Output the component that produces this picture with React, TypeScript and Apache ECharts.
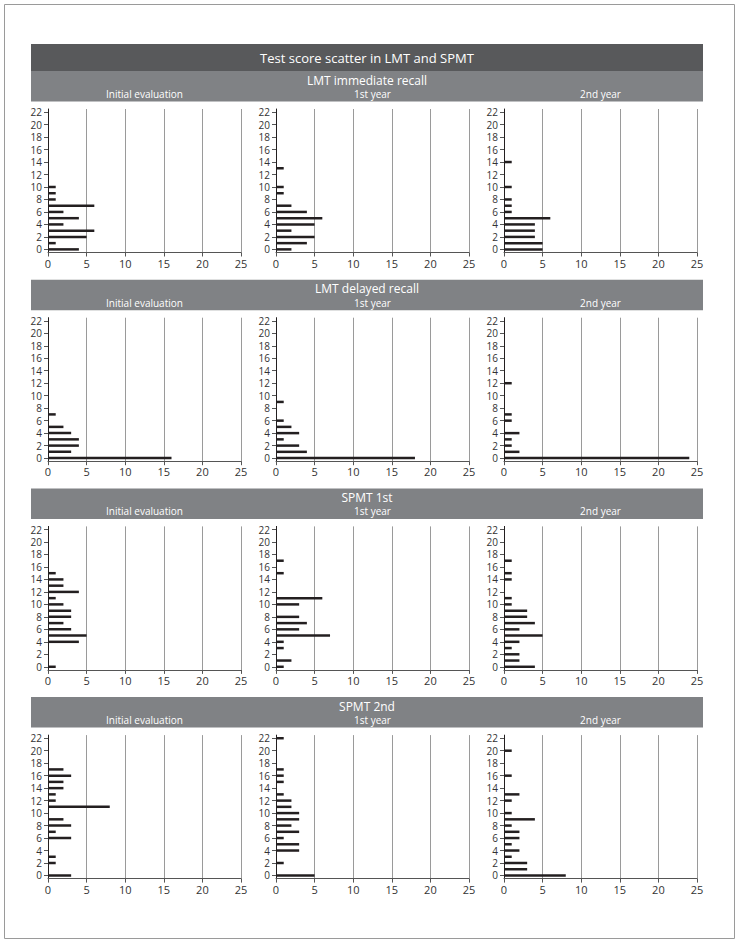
import React, { useEffect, useRef } from "react";
import * as echarts from "echarts";

const scores = Array.from({ length: 23 }, (_, i) => String(i));
const sectionTitles = ["LMT immediate recall", "LMT delayed recall", "SPMT 1st", "SPMT 2nd"];
const panelTitles = ["Initial evaluation", "1st year", "2nd year"];

// counts per score 0..22
const lmtImmInitial = [4, 1, 5, 6, 2, 4, 2, 6, 1, 1, 1, 0, 0, 0, 0, 0, 0, 0, 0, 0, 0, 0, 0];
const lmtImmYear1 = [2, 4, 5, 2, 5, 6, 4, 2, 0, 1, 1, 0, 0, 1, 0, 0, 0, 0, 0, 0, 0, 0, 0];
const lmtImmYear2 = [5, 5, 4, 4, 4, 6, 1, 1, 1, 0, 1, 0, 0, 0, 1, 0, 0, 0, 0, 0, 0, 0, 0];
const lmtDelInitial = [16, 3, 4, 4, 3, 2, 0, 1, 0, 0, 0, 0, 0, 0, 0, 0, 0, 0, 0, 0, 0, 0, 0];
const lmtDelYear1 = [18, 4, 3, 1, 3, 2, 1, 0, 0, 1, 0, 0, 0, 0, 0, 0, 0, 0, 0, 0, 0, 0, 0];
const lmtDelYear2 = [24, 2, 1, 1, 2, 0, 1, 1, 0, 0, 0, 0, 1, 0, 0, 0, 0, 0, 0, 0, 0, 0, 0];
const spmt1Initial = [1, 0, 0, 0, 4, 5, 3, 2, 3, 3, 2, 1, 4, 2, 2, 1, 0, 0, 0, 0, 0, 0, 0];
const spmt1Year1 = [1, 2, 0, 1, 1, 7, 3, 4, 3, 0, 3, 6, 0, 0, 0, 1, 0, 1, 0, 0, 0, 0, 0];
const spmt1Year2 = [4, 2, 2, 1, 2, 5, 2, 4, 3, 3, 1, 1, 0, 0, 1, 1, 0, 1, 0, 0, 0, 0, 0];
const spmt2Initial = [3, 0, 1, 1, 0, 0, 3, 1, 3, 2, 0, 8, 1, 1, 2, 2, 3, 2, 0, 0, 0, 0, 0];
const spmt2Year1 = [5, 0, 1, 0, 3, 3, 1, 3, 2, 3, 3, 2, 2, 1, 0, 1, 1, 1, 0, 0, 0, 0, 1];
const spmt2Year2 = [8, 3, 3, 1, 2, 1, 2, 2, 1, 4, 1, 0, 1, 2, 0, 0, 1, 0, 0, 0, 1, 0, 0];

const panels = [
  [lmtImmInitial, lmtImmYear1, lmtImmYear2],
  [lmtDelInitial, lmtDelYear1, lmtDelYear2],
  [spmt1Initial, spmt1Year1, spmt1Year2],
  [spmt2Initial, spmt2Year1, spmt2Year2],
];

const FONT = "'Open Sans', 'Noto Sans', sans-serif";
const SEC_STEP = 208.7;
const PANEL_LEFT = 48;
const PANEL_STEP = 228;
const PANEL_W = 193;
const BOX_L = 31;
const BOX_R = 703;

export default function App() {
  const ref = useRef<HTMLDivElement>(null);
  useEffect(() => {
    if (!ref.current) return;
    const chart = echarts.init(ref.current, null, { renderer: "svg" });
    const grid: any[] = [];
    const xAxis: any[] = [];
    const yAxis: any[] = [];
    const series: any[] = [];
    const graphic: any[] = [];

    graphic.push({
      type: "rect",
      shape: { x: 4.5, y: 4.5, width: 730, height: 934 },
      style: { fill: "none", stroke: "#9a9a9a", lineWidth: 1 },
      silent: true,
    });
    graphic.push({
      type: "rect",
      shape: { x: BOX_L, y: 44, width: BOX_R - BOX_L, height: 27 },
      style: { fill: "#58595b" },
      silent: true,
    });
    graphic.push({
      type: "text",
      x: (BOX_L + BOX_R) / 2,
      y: 57.5,
      style: {
        text: "Test score scatter in LMT and SPMT",
        fill: "#ffffff",
        font: `13px ${FONT}`,
        align: "center",
        verticalAlign: "middle",
      },
      silent: true,
    });

    panels.forEach((row, s) => {
      const headTop = 71 + SEC_STEP * s;
      graphic.push({
        type: "rect",
        shape: { x: BOX_L, y: headTop, width: BOX_R - BOX_L, height: 30.5 },
        style: { fill: "#808285" },
        silent: true,
      });
      graphic.push({
        type: "text",
        x: (BOX_L + BOX_R) / 2,
        y: headTop + 9,
        style: {
          text: sectionTitles[s],
          fill: "#ffffff",
          font: `12px ${FONT}`,
          align: "center",
          verticalAlign: "middle",
        },
        silent: true,
      });
      row.forEach((vals, p) => {
        const idx = s * 3 + p;
        const left = PANEL_LEFT + PANEL_STEP * p;
        graphic.push({
          type: "text",
          x: left + PANEL_W / 2,
          y: headTop + 23,
          style: {
            text: panelTitles[p],
            fill: "#ffffff",
            font: `10px ${FONT}`,
            align: "center",
            verticalAlign: "middle",
          },
          silent: true,
        });
        grid.push({ left, top: 109 + SEC_STEP * s, width: PANEL_W, height: 143.5 });
        xAxis.push({
          type: "value",
          gridIndex: idx,
          min: 0,
          max: 25,
          interval: 5,
          axisLine: { show: true, lineStyle: { color: "#555", width: 1 } },
          axisTick: { show: true, length: 4, lineStyle: { color: "#555" } },
          axisLabel: { color: "#333333", fontSize: 11, fontFamily: FONT, margin: 5 },
          splitLine: { show: true, lineStyle: { color: "#9a9a9a", width: 1 } },
        });
        yAxis.push({
          type: "category",
          gridIndex: idx,
          data: scores,
          axisLine: { show: true, lineStyle: { color: "#231f20", width: 1 } },
          axisTick: {
            show: true,
            interval: 1,
            alignWithLabel: true,
            length: 4,
            lineStyle: { color: "#555" },
          },
          axisLabel: {
            interval: 1,
            color: "#333333",
            fontSize: 10,
            fontFamily: FONT,
            margin: 6,
          },
          splitLine: { show: false },
        });
        series.push({
          type: "bar",
          xAxisIndex: idx,
          yAxisIndex: idx,
          data: vals,
          barWidth: 2.5,
          itemStyle: { color: "#231f20" },
          silent: true,
        });
      });
    });

    chart.setOption({
      animation: false,
      backgroundColor: "#ffffff",
      grid,
      xAxis,
      yAxis,
      series,
      graphic,
    });
    return () => chart.dispose();
  }, []);
  return (
    <div
      ref={ref}
      style={{ position: "fixed", left: 0, top: 0, width: 739, height: 944 }}
    />
  );
}
